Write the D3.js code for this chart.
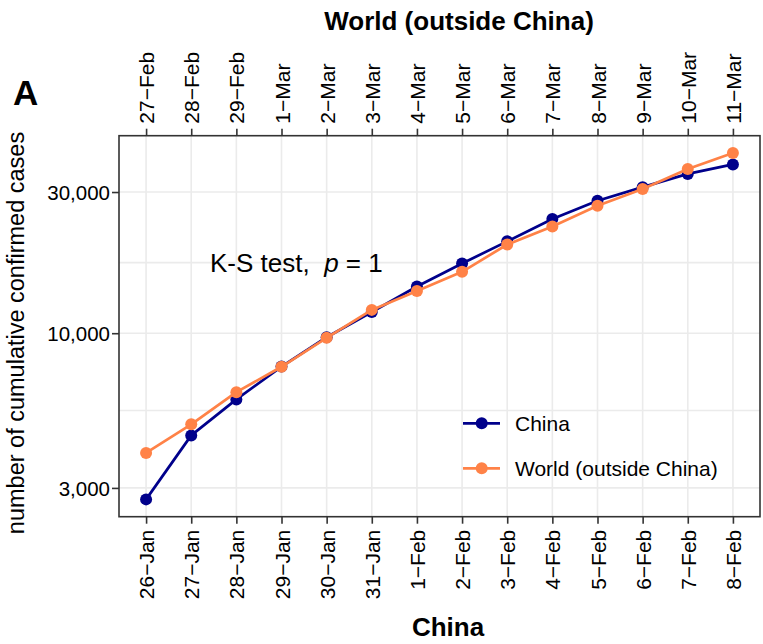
<!DOCTYPE html>
<html>
<head>
<meta charset="utf-8">
<script src="https://cdn.jsdelivr.net/npm/d3@7/dist/d3.min.js"></script>
<style>
  html, body { margin: 0; padding: 0; background: #fff; }
  svg { display: block; }
  text { font-family: "Liberation Sans", Arial, sans-serif; }
</style>
</head>
<body>
<svg id="chart" width="763" height="644"></svg>
<script>
// ---- data ----
const chinaDates = ["26−Jan","27−Jan","28−Jan","29−Jan","30−Jan","31−Jan","1−Feb","2−Feb","3−Feb","4−Feb","5−Feb","6−Feb","7−Feb","8−Feb"];
const worldDates = ["27−Feb","28−Feb","29−Feb","1−Mar","2−Mar","3−Mar","4−Mar","5−Mar","6−Mar","7−Mar","8−Mar","9−Mar","10−Mar","11−Mar"];
const chinaCases = [2744, 4515, 5974, 7711, 9692, 11791, 14380, 17205, 20438, 24324, 28018, 31161, 34546, 37198];
const worldCases = [3940, 4920, 6320, 7700, 9650, 11990, 13900, 16120, 19940, 22950, 26960, 30690, 35870, 40640];
const yTicks = [3000, 10000, 30000];
const seriesNames = ["China", "World (outside China)"];
const seriesColors = ["#00008B", "#FF8247"];

// ---- layout ----
const panel = { left: 119, right: 760, top: 135.7, bottom: 516.7 };
const svg = d3.select("#chart");

const idx = d3.range(chinaDates.length);
const x = d3.scalePoint().domain(idx).range([panel.left, panel.right]).padding(0.6);

const all = chinaCases.concat(worldCases);
const lo = Math.log10(d3.min(all)), hi = Math.log10(d3.max(all));
const pad = (hi - lo) * 0.05;
const y = d3.scaleLog().domain([Math.pow(10, lo - pad), Math.pow(10, hi + pad)]).range([panel.bottom, panel.top]);

// minor breaks: midpoints (in log space) between major breaks
const logT = yTicks.map(Math.log10);
const minor = [];
for (let i = 0; i < logT.length - 1; i++) minor.push(Math.pow(10, (logT[i] + logT[i + 1]) / 2));

svg.append("rect").attr("x", panel.left).attr("y", panel.top)
  .attr("width", panel.right - panel.left).attr("height", panel.bottom - panel.top)
  .attr("fill", "#fff");

const grid = svg.append("g").attr("stroke", "#EBEBEB").attr("stroke-width", 1.6);
grid.selectAll(".hmin").data(minor).join("line")
  .attr("x1", panel.left).attr("x2", panel.right)
  .attr("y1", d => y(d)).attr("y2", d => y(d));
grid.selectAll(".hmaj").data(yTicks).join("line")
  .attr("x1", panel.left).attr("x2", panel.right)
  .attr("y1", d => y(d)).attr("y2", d => y(d));
grid.selectAll(".v").data(idx).join("line")
  .attr("y1", panel.top).attr("y2", panel.bottom)
  .attr("x1", d => x(d)).attr("x2", d => x(d));

// series
const line = d3.line().x((d, i) => x(i)).y(d => y(d));
[chinaCases, worldCases].forEach((vals, s) => {
  const g = svg.append("g");
  g.append("path").datum(vals).attr("d", line).attr("fill", "none")
    .attr("stroke", seriesColors[s]).attr("stroke-width", 2.7).attr("stroke-linejoin", "round");
  g.selectAll("circle").data(vals).join("circle")
    .attr("cx", (d, i) => x(i)).attr("cy", d => y(d)).attr("r", 6)
    .attr("fill", seriesColors[s]);
});

// panel border
svg.append("rect").attr("x", panel.left).attr("y", panel.top)
  .attr("width", panel.right - panel.left).attr("height", panel.bottom - panel.top)
  .attr("fill", "none").attr("stroke", "#333333").attr("stroke-width", 1.6);

// axes
const tickLen = 7;
function styleAxis(g) {
  g.select(".domain").remove();
  g.selectAll(".tick line").attr("stroke", "#333333").attr("stroke-width", 1.6);
  g.selectAll(".tick text").attr("fill", "#000").style("font-size", "21px")
    .style("font-family", "'Liberation Sans', Arial, sans-serif");
}

const xb = svg.append("g").attr("transform", `translate(0,${panel.bottom})`)
  .call(d3.axisBottom(x).tickSize(tickLen).tickFormat(i => chinaDates[i]));
styleAxis(xb);
xb.selectAll(".tick text")
  .attr("transform", "rotate(-90)").attr("text-anchor", "end")
  .attr("x", -(tickLen + 6)).attr("y", 0).attr("dy", "0.36em");

const xt = svg.append("g").attr("transform", `translate(0,${panel.top})`)
  .call(d3.axisTop(x).tickSize(tickLen).tickFormat(i => worldDates[i]));
styleAxis(xt);
xt.selectAll(".tick text")
  .attr("transform", "rotate(-90)").attr("text-anchor", "start")
  .attr("x", tickLen + 5).attr("y", 0).attr("dy", "0.36em");

const yl = svg.append("g").attr("transform", `translate(${panel.left},0)`)
  .call(d3.axisLeft(y).tickValues(yTicks).tickSize(tickLen).tickFormat(d3.format(",")));
styleAxis(yl);
yl.selectAll(".tick text").style("font-size", "20.5px").attr("x", -(tickLen + 2)).attr("dy", "0.36em");

// titles
svg.append("text").attr("x", 459).attr("y", 30).attr("text-anchor", "middle")
  .style("font-size", "26px").style("font-weight", "bold").text("World (outside China)");
svg.append("text").attr("x", 448).attr("y", 636).attr("text-anchor", "middle")
  .style("font-size", "26px").style("font-weight", "bold").text("China");
svg.append("text").attr("x", 13).attr("y", 105)
  .style("font-size", "35px").style("font-weight", "bold").text("A");
svg.append("text").attr("transform", "translate(24,333) rotate(-90)")
  .attr("text-anchor", "middle").style("font-size", "23.5px")
  .text("number of cumulative confirmed cases");

// annotation
const ks = svg.append("text").attr("x", 210).attr("y", 272).style("font-size", "26px");
ks.append("tspan").text("K-S test,\u00A0\u00A0");
ks.append("tspan").style("font-style", "italic").text("p");
ks.append("tspan").text("\u00A0=\u00A01");

// legend
const leg = svg.append("g");
const legY = [423.3, 468.3];
seriesNames.forEach((name, s) => {
  leg.append("line").attr("x1", 463).attr("x2", 500).attr("y1", legY[s]).attr("y2", legY[s])
    .attr("stroke", seriesColors[s]).attr("stroke-width", 2.7);
  leg.append("circle").attr("cx", 481.7).attr("cy", legY[s]).attr("r", 6).attr("fill", seriesColors[s]);
  leg.append("text").attr("x", 515).attr("y", legY[s]).attr("dy", "0.36em")
    .style("font-size", "21px").text(name);
});
</script>
</body>
</html>
